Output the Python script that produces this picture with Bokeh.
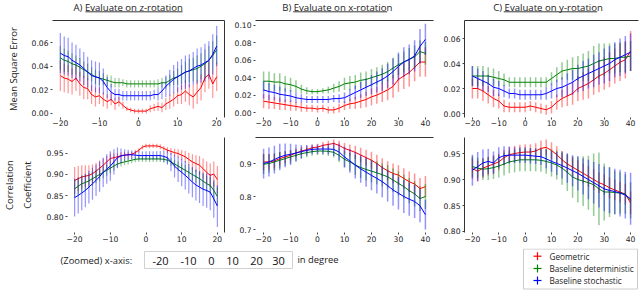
from bokeh.plotting import figure
from bokeh.layouts import column, row
from bokeh.models import Range1d, LinearAxis, FixedTicker, ColumnDataSource, NumeralTickFormatter
from bokeh.embed import file_html
from bokeh.resources import INLINE
from bokeh.core.properties import value

# ---------------- data ----------------
X_Z = list(range(-20, 21))        # z-rotation panels, every degree
X_XY = list(range(-20, 41, 2))    # x- and y-rotation panels, every 2 degrees

SERIES = ["Geometric", "Baseline deterministic", "Baseline stochastic"]
COLORS = ["#ff0000", "#008000", "#0000ff"]

# A) MSE, z-rotation
A_geo_m = [0.032,0.030,0.029,0.027,0.030,0.025,0.022,0.021,0.016,0.014, 0.015,0.012,0.010,0.012,0.008,0.010,0.007,0.004,0.003,0.002,
           0.002,0.002,0.002,0.004,0.005,0.006,0.005,0.008,0.010,0.012, 0.015,0.016,0.019,0.016,0.014,0.018,0.022,0.030,0.033,0.025,0.031]
A_geo_e = [0.013,0.012,0.012,0.011,0.011,0.010,0.010,0.009,0.008,0.008, 0.007,0.006,0.006,0.005,0.005,0.004,0.003,0.002,0.002,0.002,
           0.002,0.002,0.002,0.003,0.003,0.004,0.004,0.005,0.006,0.006, 0.007,0.008,0.009,0.009,0.010,0.010,0.011,0.012,0.012,0.012,0.012]
A_det_m = [0.047,0.045,0.044,0.042,0.041,0.039,0.037,0.035,0.033,0.031, 0.030,0.029,0.028,0.027,0.026,0.026,0.026,0.025,0.025,0.025,
           0.025,0.025,0.025,0.025,0.025,0.025,0.026,0.026,0.028,0.030, 0.031,0.033,0.035,0.036,0.037,0.038,0.040,0.042,0.045,0.049,0.054]
A_det_e = [0.010,0.010,0.009,0.009,0.008,0.008,0.007,0.007,0.006,0.006, 0.006,0.005,0.005,0.005,0.004,0.004,0.003,0.003,0.003,0.003,
           0.003,0.003,0.003,0.003,0.003,0.004,0.004,0.005,0.005,0.006, 0.007,0.008,0.009,0.010,0.010,0.011,0.011,0.012,0.012,0.012,0.012]
A_sto_m = [0.051,0.049,0.048,0.045,0.043,0.041,0.038,0.035,0.032,0.031, 0.030,0.027,0.022,0.018,0.016,0.016,0.015,0.015,0.015,0.015,
           0.015,0.015,0.015,0.015,0.016,0.016,0.019,0.023,0.026,0.029, 0.031,0.033,0.035,0.036,0.038,0.040,0.041,0.043,0.045,0.050,0.057]
A_sto_e = [0.017,0.016,0.016,0.015,0.015,0.014,0.014,0.013,0.013,0.013, 0.013,0.011,0.009,0.007,0.005,0.005,0.004,0.004,0.004,0.004,
           0.004,0.004,0.004,0.004,0.004,0.005,0.007,0.009,0.011,0.012, 0.013,0.013,0.014,0.014,0.014,0.015,0.015,0.016,0.016,0.017,0.017]

# A) correlation, z-rotation
D_geo_m = [0.886,0.890,0.894,0.896,0.898,0.902,0.908,0.915,0.922,0.930, 0.938,0.940,0.942,0.945,0.946,0.947,0.948,0.952,0.958,0.965,
           0.968,0.968,0.968,0.968,0.966,0.962,0.958,0.955,0.952,0.950, 0.946,0.942,0.936,0.930,0.926,0.922,0.914,0.905,0.898,0.901,0.888]
D_geo_e = [0.032,0.030,0.028,0.026,0.024,0.022,0.020,0.018,0.016,0.014, 0.012,0.010,0.009,0.008,0.007,0.007,0.006,0.006,0.005,0.005,
           0.005,0.005,0.005,0.005,0.006,0.006,0.007,0.008,0.009,0.010, 0.012,0.014,0.016,0.018,0.020,0.022,0.024,0.026,0.028,0.030,0.032]
D_det_m = [0.866,0.872,0.878,0.881,0.885,0.890,0.895,0.900,0.905,0.910, 0.915,0.920,0.925,0.928,0.930,0.932,0.934,0.936,0.937,0.937,
           0.937,0.937,0.937,0.937,0.937,0.936,0.934,0.930,0.925,0.920, 0.915,0.910,0.905,0.900,0.895,0.890,0.884,0.878,0.874,0.862,0.848]
D_det_e = [0.022,0.021,0.020,0.019,0.018,0.017,0.016,0.015,0.014,0.013, 0.012,0.011,0.010,0.009,0.008,0.008,0.007,0.007,0.007,0.007,
           0.007,0.007,0.007,0.007,0.007,0.008,0.008,0.009,0.010,0.011, 0.012,0.013,0.014,0.015,0.016,0.017,0.018,0.019,0.020,0.021,0.022]
D_sto_m = [0.845,0.850,0.856,0.862,0.870,0.878,0.886,0.895,0.905,0.913, 0.920,0.930,0.940,0.944,0.946,0.947,0.947,0.946,0.945,0.945,
           0.945,0.945,0.945,0.945,0.945,0.943,0.940,0.930,0.920,0.912, 0.905,0.898,0.890,0.882,0.875,0.870,0.865,0.862,0.858,0.842,0.825]
D_sto_e = [0.045,0.043,0.041,0.040,0.039,0.038,0.037,0.036,0.035,0.035, 0.035,0.030,0.024,0.018,0.014,0.012,0.010,0.010,0.010,0.010,
           0.010,0.010,0.010,0.010,0.011,0.013,0.017,0.022,0.027,0.030, 0.033,0.034,0.035,0.036,0.037,0.038,0.040,0.041,0.043,0.045,0.050]

# B) MSE, x-rotation
B_geo_m = [0.013,0.012,0.011,0.010,0.009,0.008,0.007,0.006,0.005,0.005, 0.004,0.005,0.003,0.003,0.005,0.008,0.010,0.011,0.013,0.015,
           0.018,0.020,0.023,0.026,0.030,0.038,0.042,0.046,0.052,0.058, 0.058]
B_geo_e = [0.008,0.008,0.007,0.007,0.006,0.006,0.005,0.005,0.004,0.004, 0.004,0.004,0.004,0.004,0.005,0.005,0.006,0.007,0.008,0.009,
           0.010,0.010,0.011,0.012,0.013,0.014,0.015,0.016,0.016,0.017, 0.017]
B_det_m = [0.036,0.036,0.035,0.035,0.033,0.032,0.030,0.027,0.025,0.024, 0.024,0.025,0.026,0.028,0.030,0.033,0.034,0.035,0.037,0.038,
           0.040,0.042,0.044,0.047,0.051,0.055,0.058,0.061,0.064,0.070, 0.068]
B_det_e = [0.011,0.011,0.010,0.010,0.009,0.008,0.007,0.005,0.004,0.003, 0.003,0.003,0.004,0.005,0.006,0.007,0.008,0.008,0.009,0.009,
           0.010,0.010,0.011,0.011,0.012,0.012,0.012,0.013,0.013,0.013, 0.013]
B_sto_m = [0.026,0.024,0.023,0.021,0.020,0.019,0.017,0.016,0.015,0.015, 0.015,0.015,0.015,0.016,0.016,0.017,0.020,0.023,0.026,0.029,
           0.032,0.035,0.038,0.042,0.047,0.053,0.058,0.061,0.065,0.076, 0.084]
B_sto_e = [0.010,0.010,0.009,0.009,0.008,0.007,0.006,0.005,0.004,0.004, 0.004,0.004,0.004,0.004,0.005,0.006,0.007,0.008,0.009,0.010,
           0.011,0.012,0.013,0.014,0.015,0.016,0.017,0.017,0.018,0.020, 0.018]

# B) correlation, x-rotation
E_geo_m = [0.905,0.905,0.908,0.915,0.920,0.925,0.932,0.938,0.942,0.948, 0.950,0.955,0.958,0.961,0.955,0.946,0.940,0.934,0.926,0.918,
           0.910,0.900,0.888,0.878,0.870,0.865,0.855,0.845,0.838,0.824, 0.830]
E_geo_e = [0.025,0.024,0.022,0.020,0.018,0.016,0.014,0.012,0.011,0.010, 0.010,0.010,0.011,0.012,0.014,0.016,0.018,0.020,0.022,0.024,
           0.026,0.027,0.028,0.029,0.030,0.030,0.031,0.031,0.032,0.032, 0.032]
E_det_m = [0.898,0.900,0.905,0.910,0.915,0.920,0.925,0.930,0.933,0.936, 0.938,0.938,0.937,0.934,0.925,0.913,0.905,0.896,0.888,0.882,
           0.877,0.872,0.866,0.860,0.850,0.840,0.830,0.818,0.808,0.794, 0.800]
E_det_e = [0.030,0.028,0.026,0.024,0.022,0.020,0.018,0.016,0.014,0.012, 0.012,0.012,0.014,0.016,0.020,0.024,0.027,0.030,0.032,0.033,
           0.034,0.035,0.035,0.036,0.036,0.037,0.037,0.038,0.038,0.038, 0.038]
E_sto_m = [0.900,0.905,0.912,0.920,0.925,0.928,0.932,0.936,0.940,0.943, 0.944,0.944,0.944,0.943,0.935,0.920,0.908,0.895,0.884,0.874,
           0.864,0.855,0.845,0.833,0.820,0.810,0.800,0.792,0.785,0.772, 0.745]
E_sto_e = [0.045,0.044,0.042,0.040,0.036,0.032,0.026,0.020,0.016,0.014, 0.014,0.014,0.016,0.020,0.026,0.032,0.036,0.040,0.042,0.044,
           0.045,0.046,0.047,0.048,0.048,0.049,0.050,0.050,0.050,0.050, 0.045]

# C) MSE, y-rotation
C_geo_m = [0.020,0.020,0.018,0.015,0.012,0.010,0.006,0.005,0.005,0.005, 0.005,0.006,0.005,0.004,0.003,0.005,0.009,0.012,0.014,0.016,
           0.020,0.022,0.024,0.027,0.030,0.032,0.035,0.038,0.041,0.043, 0.050]
C_geo_e = [0.008,0.008,0.008,0.007,0.007,0.006,0.005,0.004,0.004,0.004, 0.004,0.004,0.004,0.004,0.004,0.005,0.006,0.007,0.008,0.009,
           0.010,0.011,0.012,0.012,0.013,0.013,0.014,0.014,0.015,0.015, 0.016]
C_det_m = [0.030,0.030,0.030,0.030,0.029,0.028,0.027,0.025,0.025,0.025, 0.025,0.025,0.025,0.025,0.025,0.028,0.031,0.034,0.035,0.036,
           0.036,0.037,0.038,0.040,0.042,0.043,0.044,0.044,0.045,0.045, 0.046]
C_det_e = [0.008,0.008,0.008,0.007,0.007,0.006,0.005,0.004,0.004,0.004, 0.004,0.004,0.004,0.004,0.004,0.005,0.006,0.007,0.008,0.009,
           0.010,0.011,0.012,0.014,0.014,0.013,0.012,0.012,0.012,0.012, 0.012]
C_sto_m = [0.030,0.028,0.026,0.024,0.021,0.020,0.018,0.016,0.016,0.015, 0.015,0.015,0.015,0.015,0.016,0.018,0.020,0.021,0.023,0.025,
           0.028,0.030,0.032,0.034,0.036,0.038,0.040,0.043,0.045,0.047, 0.049]
C_sto_e = [0.008,0.008,0.008,0.007,0.007,0.006,0.005,0.004,0.004,0.004, 0.004,0.004,0.004,0.004,0.005,0.006,0.007,0.008,0.009,0.010,
           0.011,0.012,0.012,0.013,0.013,0.014,0.014,0.014,0.015,0.015, 0.015]

# C) correlation, y-rotation
F_geo_m = [0.921,0.916,0.922,0.926,0.930,0.934,0.942,0.948,0.950,0.952, 0.953,0.953,0.955,0.960,0.962,0.956,0.948,0.938,0.930,0.924,
           0.918,0.912,0.906,0.900,0.894,0.890,0.884,0.880,0.876,0.872, 0.855]
F_geo_e = [0.020,0.020,0.019,0.018,0.017,0.016,0.015,0.015,0.015,0.015, 0.015,0.015,0.015,0.015,0.015,0.016,0.016,0.017,0.018,0.018,
           0.019,0.019,0.020,0.020,0.020,0.020,0.020,0.020,0.020,0.020, 0.022]
F_det_m = [0.925,0.922,0.920,0.921,0.923,0.926,0.930,0.934,0.936,0.938, 0.938,0.938,0.938,0.937,0.935,0.932,0.928,0.922,0.914,0.905,
           0.900,0.897,0.894,0.890,0.882,0.876,0.876,0.875,0.874,0.872, 0.860]
F_det_e = [0.020,0.020,0.021,0.022,0.022,0.022,0.022,0.022,0.022,0.022, 0.022,0.022,0.022,0.022,0.024,0.026,0.028,0.032,0.036,0.040,
           0.044,0.048,0.052,0.060,0.070,0.055,0.048,0.042,0.040,0.038, 0.035]
F_sto_m = [0.918,0.925,0.932,0.935,0.932,0.942,0.946,0.947,0.947,0.947, 0.947,0.946,0.945,0.944,0.940,0.935,0.931,0.927,0.922,0.917,
           0.912,0.906,0.900,0.894,0.888,0.882,0.879,0.877,0.874,0.870, 0.863]
F_sto_e = [0.030,0.028,0.026,0.024,0.022,0.020,0.018,0.016,0.015,0.015, 0.015,0.015,0.015,0.016,0.018,0.020,0.022,0.025,0.028,0.030,
           0.033,0.035,0.038,0.040,0.042,0.043,0.044,0.044,0.045,0.045, 0.050]

TITLES = ["A) Evaluate on z-rotation", "B) Evaluate on x-rotation", "C) Evaluate on y-rotation"]
X_TICKS_Z = [-20, -10, 0, 10, 20]
X_TICKS_XY = [-20, -10, 0, 10, 20, 30, 40]
ZOOM_TICKS = ["-20", "-10", "0", "10", "20", "30"]

# ---------------- helpers ----------------
FONT = "Open Sans"
TICK_FONT = "DejaVu Sans"
TXT = "#222222"
MINUS = {t: (str(t).replace("-", "\u2212")) for t in X_TICKS_XY}


def style_axis(ax, line=False, standoff=1):
    ax.axis_line_color = "#333333" if line else None
    ax.major_tick_out = 2
    ax.major_tick_in = 0
    ax.major_tick_line_color = "#444444"
    ax.minor_tick_line_color = None
    ax.major_label_text_font = TICK_FONT
    ax.major_label_text_font_size = "7.6px"
    ax.major_label_text_color = TXT
    ax.major_label_standoff = standoff


def spine(p, side):
    ax = LinearAxis(ticker=FixedTicker(ticks=[]), axis_line_color="#333333", axis_line_width=1,
                    major_tick_line_color=None, minor_tick_line_color=None,
                    major_label_text_font_size="0px", major_tick_out=0, major_tick_in=0,
                    major_label_standoff=0)
    p.add_layout(ax, side)


def panel(w, h, bl, br, bt, bb, xr, yr, x, data, xticks, yticks, yfmt, spines,
          left_line=False, ylabel=None, ylabel_standoff=8, lw=1.2, xstandoff=1):
    p = figure(width=w, height=h, x_range=Range1d(*xr), y_range=Range1d(*yr),
               output_backend="svg", toolbar_location=None,
               min_border_left=bl, min_border_right=br, min_border_top=bt, min_border_bottom=bb)
    p.outline_line_color = None
    p.grid.visible = False
    p.background_fill_color = "white"
    p.border_fill_color = "white"
    for (m, e), c in zip(data, COLORS):
        if not (len(m) == len(e) == len(x)):
            raise ValueError("length mismatch")
        src = ColumnDataSource(dict(x=x, m=m,
                                    lo=[a - b for a, b in zip(m, e)],
                                    hi=[a + b for a, b in zip(m, e)]))
        p.segment(x0="x", y0="lo", x1="x", y1="hi", source=src,
                  line_color=c, line_alpha=0.42, line_width=lw)
        p.line(x="x", y="m", source=src, line_color=c, line_width=1)
    xa = p.xaxis[0]
    ya = p.yaxis[0]
    xa.ticker = FixedTicker(ticks=xticks)
    xa.major_label_overrides = {t: MINUS[t] for t in xticks}
    ya.ticker = FixedTicker(ticks=yticks)
    ya.formatter = NumeralTickFormatter(format=yfmt)
    style_axis(xa, False, xstandoff)
    style_axis(ya, left_line, 2)
    if ylabel:
        ya.axis_label = ylabel
        ya.axis_label_text_font = FONT
        ya.axis_label_text_font_size = "9.5px"
        ya.axis_label_text_font_style = "normal"
        ya.axis_label_text_color = TXT
        ya.axis_label_standoff = ylabel_standoff
        ya.axis_label_text_line_height = 1.35
    for s in spines:
        spine(p, s)
    return p


# ---------------- title strip ----------------
tf = figure(width=640, height=19, x_range=Range1d(0, 640), y_range=Range1d(19, 0),
            output_backend="svg", toolbar_location=None, x_axis_type=None, y_axis_type=None,
            min_border=0)
tf.outline_line_color = None
tf.grid.visible = False
title_x = [73, 281.7, 492.7]
ul_x0 = [85, 292.7, 503.3]
ul_x1 = [182, 386.7, 596.7]
tf.text(x=title_x, y=[6.6] * 3, text=TITLES, text_font=value(FONT), text_font_size=value("9.6px"),
        text_color=TXT, text_baseline="middle", text_align="left")
tf.segment(x0=ul_x0, y0=[11.3] * 3, x1=ul_x1, y1=[11.3] * 3, line_color=TXT, line_width=0.9)

# ---------------- panels ----------------
XR_Z = (-22, 22)
XR_XY = (-23, 43)
pA = panel(227, 117, 52, 3, 1, 19, XR_Z, (-0.0034, 0.0786), X_Z,
           [(A_geo_m, A_geo_e), (A_det_m, A_det_e), (A_sto_m, A_sto_e)],
           X_TICKS_Z, [0.0, 0.02, 0.04, 0.06], "0.00", ["above", "right"],
           ylabel="Mean Square Error", ylabel_standoff=9, xstandoff=0)
pB = panel(209, 117, 28, 3, 1, 19, XR_XY, (-0.0057, 0.1057), X_XY,
           [(B_geo_m, B_geo_e), (B_det_m, B_det_e), (B_sto_m, B_sto_e)],
           X_TICKS_XY, [0.0, 0.02, 0.04, 0.06, 0.08, 0.10], "0.00", ["above"], lw=1.5, xstandoff=0)
pC = panel(204, 117, 28, 2, 1, 19, XR_XY, (-0.0032, 0.0744), X_XY,
           [(C_geo_m, C_geo_e), (C_det_m, C_det_e), (C_sto_m, C_sto_e)],
           X_TICKS_XY, [0.0, 0.02, 0.04, 0.06], "0.00", ["above"], left_line=True, lw=1.5, xstandoff=0)

pD = panel(227, 112, 52, 3, 1, 16, XR_Z, (0.762, 0.988), X_Z,
           [(D_geo_m, D_geo_e), (D_det_m, D_det_e), (D_sto_m, D_sto_e)],
           X_TICKS_Z, [0.80, 0.85, 0.90, 0.95], "0.00", ["right"],
           ylabel="Correlation\nCoefficient", ylabel_standoff=10)
pE = panel(209, 112, 28, 3, 1, 16, XR_XY, (0.691, 0.979), X_XY,
           [(E_geo_m, E_geo_e), (E_det_m, E_det_e), (E_sto_m, E_sto_e)],
           X_TICKS_XY, [0.7, 0.8, 0.9], "0.0", ["above"], lw=1.5)
pF = panel(204, 112, 28, 2, 1, 16, XR_XY, (0.798, 0.981), X_XY,
           [(F_geo_m, F_geo_e), (F_det_m, F_det_e), (F_sto_m, F_sto_e)],
           X_TICKS_XY, [0.80, 0.85, 0.90, 0.95], "0.00", [], left_line=True, lw=1.5)

# ---------------- footer: zoom note + legend ----------------
ff = figure(width=640, height=42, x_range=Range1d(0, 640), y_range=Range1d(42, 0),
            output_backend="svg", toolbar_location=None, x_axis_type=None, y_axis_type=None,
            min_border=0)
ff.outline_line_color = None
ff.grid.visible = False
ff.text(x=[60], y=[11.8], text=["(Zoomed) x-axis:"], text_font=value(FONT),
        text_font_size=value("9.4px"), text_color=TXT, text_baseline="middle", text_align="left")
ff.quad(left=[144], right=[292], top=[3], bottom=[20], fill_color="white",
        line_color="#d0d0d0", line_width=1)
ff.text(x=[160, 188, 211, 232, 256, 278], y=[12.0] * 6, text=ZOOM_TICKS,
        text_font=value(FONT), text_font_size=value("11px"), text_color="#111111",
        text_baseline="middle", text_align="center")
ff.text(x=[297], y=[11.3], text=["in degree"], text_font=value(FONT),
        text_font_size=value("9.4px"), text_color=TXT, text_baseline="middle", text_align="left")

# legend box
leg_y = [7.7, 20.0, 32.0]
ff.quad(left=[523], right=[637], top=[0.5], bottom=[40.5], fill_color="white",
        line_color="#cccccc", line_width=1)
for yy, c in zip(leg_y, COLORS):
    ff.segment(x0=[533], y0=[yy], x1=[541], y1=[yy], line_color=c, line_width=1.2)
    ff.segment(x0=[537], y0=[yy - 4], x1=[537], y1=[yy + 4], line_color=c, line_width=1.2)
ff.text(x=[549] * 3, y=leg_y, text=SERIES, text_font=value(FONT), text_font_size=value("8.2px"),
        text_color=TXT, text_baseline="middle", text_align="left")

layout = column(tf, row(pA, pB, pC), row(pD, pE, pF), ff)

open("out.html", "w").write(file_html(layout, INLINE))
